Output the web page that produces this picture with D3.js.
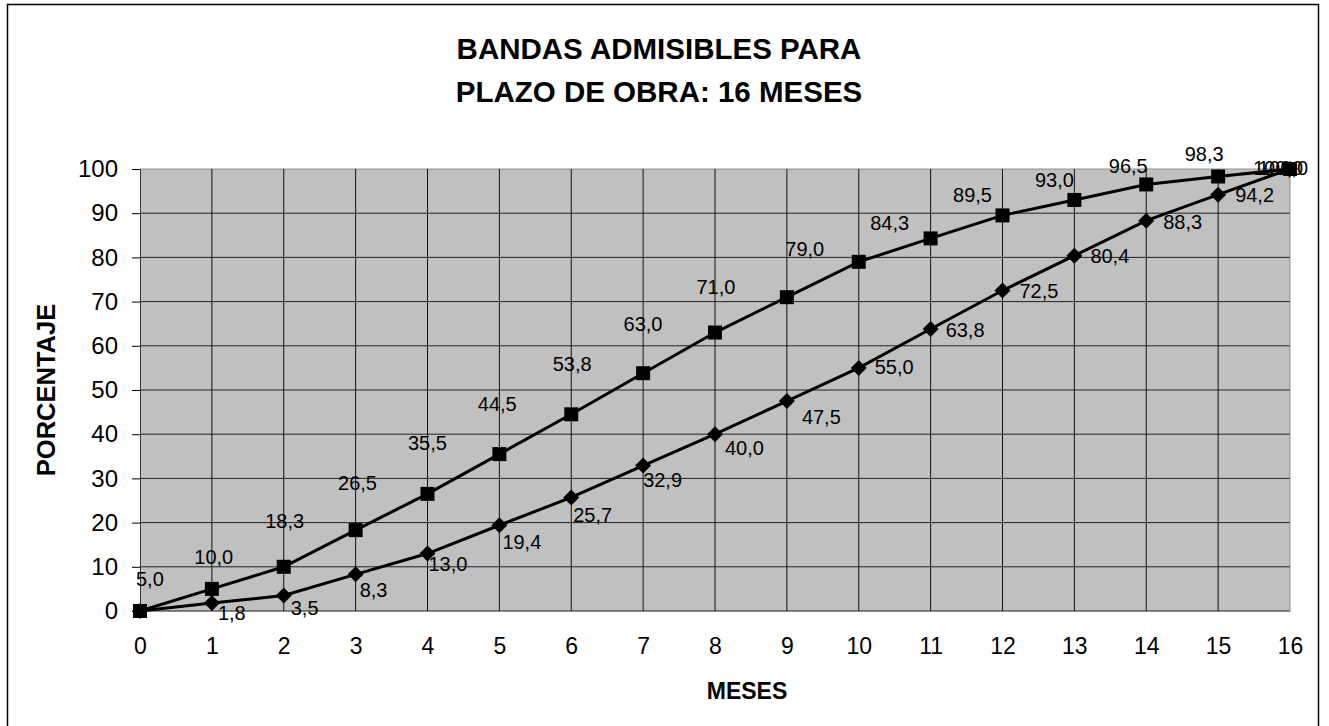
<!DOCTYPE html>
<html>
<head>
<meta charset="utf-8">
<title>Bandas admisibles</title>
<script src="https://d3js.org/d3.v7.min.js"></script>
<style>
  body { margin: 0; background: #fff; }
  text { font-family: "Liberation Sans", Arial, sans-serif; fill: #000; }
</style>
</head>
<body>
<div id="chart"></div>
<script>
// data
var meses = [0, 1, 2, 3, 4, 5, 6, 7, 8, 9, 10, 11, 12, 13, 14, 15, 16]
var bandaSuperior = [0, 5.0, 10.0, 18.3, 26.5, 35.5, 44.5, 53.8, 63.0, 71.0, 79.0, 84.3, 89.5, 93.0, 96.5, 98.3, 100.0]
var bandaInferior = [0, 1.8, 3.5, 8.3, 13.0, 19.4, 25.7, 32.9, 40.0, 47.5, 55.0, 63.8, 72.5, 80.4, 88.3, 94.2, 100.0]
var yTicks = [0, 10, 20, 30, 40, 50, 60, 70, 80, 90, 100]

// label placement (pixel nudges, like the hand-moved labels of the original)
var supOffset = [null, [-62,-10], [-70,-10], [-71,-9], [-70,-11], [-72,-11], [-74,-10], [-71,-9], [-72,-9],
                 [-71,-10], [-54,-13], [-41,-15], [-30,-20], [-20,-20], [-18,-18], [-14,-23], [-12,-1]]
var infOffset = [null, [6,10], [7,12], [4,16], [1,10], [3,17], [2,18], [0,14], [10,14],
                 [15,16], [16,-1], [15,1], [17,0], [16,0], [17,1], [17,0], [-32,-1]]

var W = 1329, H = 726
var margin = {top: 169, right: 39, bottom: 115, left: 140},
    width = W - margin.left - margin.right,
    height = H - margin.top - margin.bottom

var svg = d3.select("#chart").append("svg")
    .attr("width", W).attr("height", H)

// outer chart border
svg.append("rect")
    .attr("x", 7.5).attr("y", 4.5).attr("width", 1311).attr("height", 730)
    .attr("fill", "#fff").attr("stroke", "#000").attr("stroke-width", 1.5)

// title
var title = svg.append("text")
    .attr("text-anchor", "middle")
    .style("font-weight", "bold").style("font-size", "29.5px")
title.append("tspan").attr("x", 659).attr("y", 59).text("BANDAS ADMISIBLES PARA")
title.append("tspan").attr("x", 659).attr("y", 102).text("PLAZO DE OBRA: 16 MESES")

var g = svg.append("g")
    .attr("transform", "translate(" + margin.left + "," + margin.top + ")")

var x = d3.scaleLinear().domain([0, 16]).range([0, width])
var y = d3.scaleLinear().domain([0, 100]).range([height, 0])

// plot area
g.append("rect")
    .attr("width", width).attr("height", height)
    .attr("fill", "#c0c0c0")

// grid
g.append("g").selectAll("line").data(yTicks).join("line")
    .attr("x1", 0).attr("x2", width)
    .attr("y1", d => y(d)).attr("y2", d => y(d))
    .attr("stroke", d => d == 100 ? "#909090" : "#222").attr("stroke-width", 1)
g.append("g").selectAll("line").data(meses.slice(1)).join("line")
    .attr("x1", d => x(d)).attr("x2", d => x(d))
    .attr("y1", 0).attr("y2", height)
    .attr("stroke", d => d == 16 ? "#909090" : "#111").attr("stroke-width", 1)

// axes
var yAxis = g.append("g")
    .call(d3.axisLeft(y).tickValues(yTicks).tickSize(8).tickPadding(14))
yAxis.selectAll("text").style("font-size", "24px")
yAxis.select(".domain").attr("stroke", "#333")

var xAxis = g.append("g")
    .attr("transform", "translate(0," + height + ")")
    .call(d3.axisBottom(x).tickValues(meses).tickSize(0).tickPadding(27))
xAxis.selectAll("text").style("font-size", "23px")
xAxis.select(".domain").attr("stroke", "#888")

// axis titles
svg.append("text")
    .attr("transform", "translate(55,390) rotate(-90)")
    .attr("text-anchor", "middle")
    .style("font-weight", "bold").style("font-size", "25.5px")
    .text("PORCENTAJE")
svg.append("text")
    .attr("x", 747).attr("y", 699)
    .attr("text-anchor", "middle")
    .style("font-weight", "bold").style("font-size", "23px")
    .text("MESES")

var line = d3.line().x((d, i) => x(meses[i])).y(d => y(d))

// lower band
g.append("path").datum(bandaInferior)
    .attr("d", line).attr("fill", "none")
    .attr("stroke", "#000").attr("stroke-width", 3)
g.append("g").selectAll("path").data(bandaInferior).join("path")
    .attr("transform", (d, i) => "translate(" + x(meses[i]) + "," + y(d) + ")")
    .attr("d", "M0,-8L8,0L0,8L-8,0Z")
    .attr("fill", "#000")

// upper band
g.append("path").datum(bandaSuperior)
    .attr("d", line).attr("fill", "none")
    .attr("stroke", "#000").attr("stroke-width", 3)
g.append("g").selectAll("rect").data(bandaSuperior).join("rect")
    .attr("x", (d, i) => x(meses[i]) - 7)
    .attr("y", d => y(d) - 7)
    .attr("width", 14).attr("height", 14)
    .attr("fill", "#000")

var fmt = v => d3.format(".1f")(v).replace(".", ",")

// data labels
g.append("g").selectAll("text").data(bandaSuperior.slice(1)).join("text")
    .attr("x", (d, i) => x(meses[i + 1]) + supOffset[i + 1][0])
    .attr("y", (d, i) => y(d) + supOffset[i + 1][1])
    .attr("text-anchor", "middle").attr("dy", "0.35em")
    .style("font-size", "20px")
    .text(fmt)
g.append("g").selectAll("text").data(bandaInferior.slice(1)).join("text")
    .attr("x", (d, i) => x(meses[i + 1]) + infOffset[i + 1][0])
    .attr("y", (d, i) => y(d) + infOffset[i + 1][1])
    .attr("text-anchor", "start").attr("dy", "0.35em")
    .style("font-size", "20px")
    .text(fmt)
</script>
</body>
</html>
